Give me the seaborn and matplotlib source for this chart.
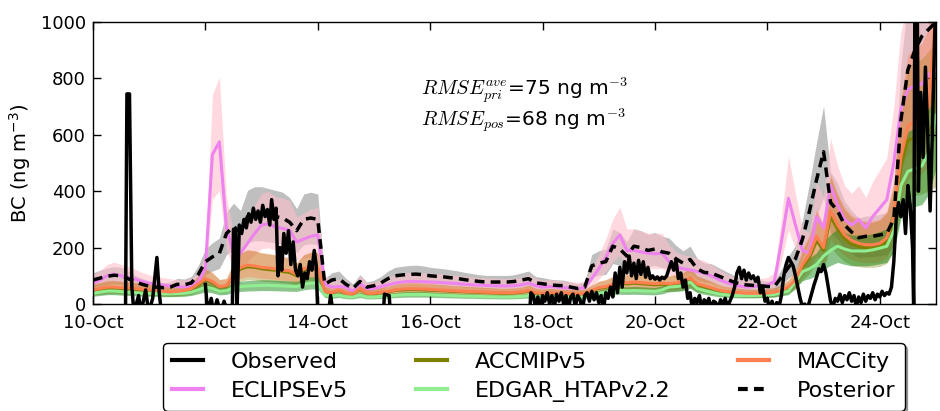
import numpy as np
import pandas as pd
import matplotlib
matplotlib.use("Agg")
import matplotlib.pyplot as plt
import matplotlib.dates as mdates
from matplotlib.lines import Line2D
import seaborn as sns

# ---------------- data ----------------
start = pd.Timestamp("2016-10-10 00:00")
step_hours = 3  # model output every 3 hours, 10-Oct 00h .. 25-Oct 00h

eclipse = [74, 85, 100, 106, 100, 95, 88, 80, 74, 70, 67, 64, 62, 60, 65, 80,
           125, 530, 575, 270, 180, 180, 215, 250, 280, 285, 272, 268, 262, 220, 230, 240,
           245, 70, 60, 62, 60, 45, 72, 55, 55, 62, 68, 74, 78, 80, 80, 79,
           78, 77, 75, 74, 72, 70, 68, 67, 66, 65, 64, 64, 65, 68, 74, 65,
           60, 62, 60, 58, 57, 55, 58, 90, 125, 165, 215, 245, 190, 190, 185, 180,
           178, 180, 150, 131, 125, 121, 115, 110, 100, 88, 78, 70, 64, 60, 62, 65,
           67, 80, 220, 375, 280, 190, 180, 310, 270, 420, 350, 300, 280, 300, 270, 310,
           340, 370, 500, 690, 760, 775, 780, 815, 830]

accmip = [48, 52, 56, 57, 55, 54, 52, 50, 48, 46, 43, 41, 43, 46, 52, 68,
          85, 76, 60, 62, 100, 124, 132, 130, 125, 122, 120, 115, 112, 100, 120, 126,
          125, 43, 38, 48, 36, 34, 52, 36, 36, 40, 43, 48, 50, 51, 51, 50,
          49, 48, 47, 45, 44, 43, 42, 41, 40, 39, 38, 38, 39, 41, 46, 38,
          36, 38, 36, 36, 35, 34, 36, 46, 55, 59, 66, 74, 71, 74, 72, 70,
          68, 70, 68, 71, 76, 88, 68, 62, 55, 48, 43, 40, 38, 36, 36, 36,
          37, 40, 46, 58, 80, 130, 165, 225, 190, 310, 265, 230, 212, 204, 200, 200,
          205, 222, 290, 490, 580, 590, 600, 620, 640]

edgar = [38, 42, 46, 46, 44, 42, 40, 38, 38, 37, 36, 36, 37, 38, 42, 50,
         60, 55, 45, 47, 58, 62, 64, 65, 66, 66, 65, 64, 63, 62, 70, 74,
         74, 32, 28, 32, 26, 25, 32, 25, 25, 27, 29, 31, 33, 34, 34, 34,
         33, 32, 31, 30, 29, 28, 28, 27, 26, 26, 25, 25, 26, 27, 30, 26,
         25, 26, 25, 25, 24, 24, 25, 32, 38, 42, 46, 48, 47, 48, 47, 46,
         45, 50, 60, 62, 65, 78, 55, 48, 42, 36, 33, 31, 30, 30, 30, 31,
         32, 34, 40, 46, 80, 115, 125, 140, 170, 190, 205, 195, 188, 188, 188, 192,
         198, 205, 260, 420, 470, 480, 490, 540, 670]

maccity = [50, 55, 60, 60, 58, 57, 55, 52, 50, 48, 45, 43, 45, 48, 55, 72,
           90, 80, 62, 65, 105, 130, 138, 135, 130, 128, 125, 120, 118, 105, 125, 132,
           130, 45, 40, 50, 38, 35, 55, 38, 38, 42, 45, 50, 53, 54, 54, 53,
           52, 50, 49, 47, 46, 45, 44, 43, 42, 41, 40, 40, 41, 43, 48, 40,
           38, 40, 38, 38, 37, 36, 38, 48, 58, 62, 70, 78, 75, 78, 76, 74,
           72, 74, 72, 75, 80, 92, 72, 65, 58, 50, 45, 42, 40, 38, 38, 38,
           39, 42, 48, 62, 85, 140, 175, 240, 200, 330, 280, 245, 225, 215, 210, 210,
           215, 235, 310, 520, 630, 650, 660, 700, 1050]

posterior = [85, 92, 98, 102, 100, 90, 78, 70, 63, 60, 58, 60, 70, 68, 75, 105,
             150, 167, 180, 250, 275, 255, 310, 320, 320, 315, 310, 305, 290, 260, 300, 305,
             300, 70, 85, 90, 70, 55, 80, 60, 65, 75, 90, 100, 103, 105, 106, 104,
             100, 98, 96, 93, 90, 86, 83, 80, 78, 78, 78, 78, 80, 85, 90, 75,
             72, 68, 66, 65, 60, 55, 60, 135, 145, 150, 205, 195, 170, 205, 200, 190,
             195, 185, 180, 160, 145, 158, 125, 112, 110, 100, 90, 80, 72, 68, 66, 65,
             62, 62, 95, 130, 160, 230, 330, 440, 540, 360, 330, 280, 255, 235, 240, 240,
             245, 250, 300, 650, 830, 900, 950, 975, 1000]

# relative ensemble spread (lower, upper) read from the shaded envelopes
spread_posterior = (0.70, 1.30)
spread_eclipse = (0.70, 1.40)
spread_accmip = (0.65, 1.45)
spread_maccity = (0.70, 1.40)
spread_edgar = (0.72, 1.30)

# observations: hours since 10-Oct 00h and BC values (NaN = no data)
nan = np.nan
obs_hours = [13.9, 14.5, 15.6, 16.6, 17.5, 19.5, 20.5, 22.5, 23.8, 25.5, 27.3, 28.3, 29.2, 30.0,
             48, 49, 50.5, 51.5, 53, 54.5, 56, 57.5, 59.5, 60, 60.8, 61.5, 62.5, 63.5, 64.5,
             65.5, 66.5, 67.5, 68.5, 69.5, 70.5, 71.5, 72.5, 73.5, 74.5, 75.5, 76.3, 77.3,
             78.2, 79, 79.8, 80.6, 81.5, 82.5, 83.5, 84.5, 85.5, 86.5, 87.5, 88.5, 89.5,
             90.5, 91.5, 92.5, 93.5, 94.5, 95.3, 96, 96.5,
             100.5, 101.5, 102.5, 103,
             124, 124.5, 126.5, 127, 127.5,
             186.5, 187, 188, 189, 190, 191, 192, 193, 194, 195, 196, 197, 198, 199, 200,
             201, 202, 203, 204, 205, 206, 207, 208, 209, 210, 211, 212, 213, 214, 215,
             216, 217, 218, 219, 220, 221, 222, 223, 224, 225, 226, 227, 228, 229, 230,
             231, 232, 233, 234, 235, 236, 237, 238, 239, 240, 241, 242, 243, 244, 245,
             246, 247, 248, 249, 250, 251, 252, 253, 254, 255, 256, 257, 258, 259, 260,
             261, 262, 263, 264, 265, 266, 267, 268, 269, 270, 271, 272, 273, 274, 275,
             276, 277, 278, 279, 280, 281, 282, 283, 284, 285, 286, 287, 288, 289, 290,
             291, 292, 293, 294, 295, 296, 297, 298, 299, 300, 301, 302, 303, 304, 305,
             306, 307, 308, 309, 310, 311, 312, 313, 314, 315, 316, 317, 318, 319, 320,
             321, 322, 323, 324, 325, 326, 327, 328, 329, 330, 331, 332, 333, 334, 335,
             336, 337, 338, 339, 340, 341, 342, 343, 344, 345, 346, 347, 348, 349, 350,
             350.5, 351, 352, 352.5, 353.5, 354.5, 355.5, 356.5, 357.5, 358.5, 359.3, 360]
obs_values = [-30, 745, 745, 60, -30, 30, -30, 50, -30, 20, 165, 40, -30, nan,
              70, -30, 20, -30, 15, -30, 10, -30, -30, 265, 265, -30, 280, 250, 300,
              270, 320, 290, 340, 300, 330, 290, 350, 310, 335, 280, 370, 300,
              340, 100, 200, 120, 250, 180, 260, 140, 220, 120, 100, 140, 60,
              110, 90, 150, 120, 190, 140, -30, nan,
              -30, 30, -30, nan,
              -30, 35, 30, -30, nan,
              -30, 40, 30, -10, 25, -20, 30, 10, 40, 0, 30, -10, 35, 10, 40,
              0, 30, -20, 25, 35, -10, 30, 15, -20, 30, 40, 10, 45, 15, 40,
              5, 30, -20, 40, 20, 60, 25, 110, 40, 130, 60, 150, 110, 170, 100,
              145, 90, 155, 105, 150, 95, 130, 90, 100, 88, 96, 85, 95, 90, 100,
              125, 150, 120, 155, 90, 110, 60, 85, 20, 40, -20, 20, 5, 30, -20,
              15, 0, 20, -20, 10, 5, -20, 15, 0, 20, -10, 10, 30, 60, 110,
              130, 90, 120, 85, 110, 90, 100, 80, 95, 40, 60, 10, 20, -20, 10,
              -20, 5, -10, 30, 100, 140, 165, 150, 135, 100, 60, 20, -10, 0, -20,
              10, 40, 70, 95, 125, 115, 140, 110, 60, 10, -10, 20, 10, 35, 5,
              30, 15, 40, 10, 30, -10, 25, 5, 35, 10, 30, 20, 40, 15, 35,
              25, 45, 30, 40, 35, 60, 150, 300, 360, 310, 370, 250, 420, 350, 200,
              -30, 1100, 1100, 400, 750, 520, 840, 600, 330, 620, 900, 1100]

labels = ["Observed", "ECLIPSEv5", "ACCMIPv5", "EDGAR_HTAPv2.2", "MACCity", "Posterior"]
xtick_days = [10, 12, 14, 16, 18, 20, 22, 24]
yticks = [0, 200, 400, 600, 800, 1000]

# ---------------- build frames ----------------
times = start + pd.to_timedelta(np.arange(len(eclipse)) * step_hours, unit="h")
models = pd.DataFrame({"time": times, "ECLIPSEv5": eclipse, "ACCMIPv5": accmip,
                       "EDGAR_HTAPv2.2": edgar, "MACCity": maccity,
                       "Posterior": posterior})

obs = pd.DataFrame({"time": start + pd.to_timedelta(obs_hours, unit="h"),
                    "bc": obs_values})
obs["seg"] = obs["bc"].isna().cumsum()
obs = obs.dropna()

# ---------------- style ----------------
plt.rcParams.update({
    "font.family": ["DejaVu Sans"],
    "mathtext.fontset": "cm",
    "axes.linewidth": 1.0,
    "xtick.direction": "in", "ytick.direction": "in",
    "xtick.top": True, "ytick.right": True,
    "xtick.major.pad": 7, "ytick.major.pad": 5,
    "lines.scale_dashes": False,
    "lines.dashed_pattern": [7.0, 4.5],
})

fig = plt.figure(figsize=(9.4, 4.11), dpi=100)
ax = fig.add_axes([0.0989, 0.2603, 0.8968, 0.6862])

# shaded envelopes
bands = [("Posterior", spread_posterior, "gray", 0.5),
         ("ECLIPSEv5", spread_eclipse, "pink", 0.6),
         ("ACCMIPv5", spread_accmip, "olive", 0.35),
         ("MACCity", spread_maccity, "coral", 0.4),
         ("EDGAR_HTAPv2.2", spread_edgar, "green", 0.45)]
for name, (lo, hi), col, a in bands:
    ax.fill_between(models["time"], models[name] * lo, models[name] * hi,
                    color=col, alpha=a, lw=0)

line_styles = {"ECLIPSEv5": ("violet", 2.2), "ACCMIPv5": ("olive", 2.2),
               "EDGAR_HTAPv2.2": ("lightgreen", 2.2), "MACCity": ("coral", 2.2)}
for name in ["ECLIPSEv5", "ACCMIPv5", "EDGAR_HTAPv2.2", "MACCity"]:
    col, lw = line_styles[name]
    sns.lineplot(data=models, x="time", y=name, color=col, lw=lw, ax=ax,
                 legend=False)

sns.lineplot(data=obs, x="time", y="bc", units="seg", estimator=None,
             color="black", lw=2.5, ax=ax, legend=False)
sns.lineplot(data=models, x="time", y="Posterior", color="black", lw=2.5,
             linestyle="--", ax=ax, legend=False)

# axes
ax.set_xlim(start, start + pd.Timedelta(days=15))
ax.set_ylim(0, 1000)
ax.set_yticks(yticks)
ax.set_xticks([pd.Timestamp(2016, 10, d) for d in xtick_days])
ax.xaxis.set_major_formatter(mdates.DateFormatter("%d-%b"))
ax.tick_params(labelsize=13, length=6, width=1)
ax.set_xlabel("")
ax.set_ylabel(r"BC (ng m$^{-3}$)", fontsize=14, math_fontfamily="dejavusans",
              labelpad=6)
for s in ax.spines.values():
    s.set_color("black")

ax.text(0.389, 0.76, r"$RMSE^{ave}_{pri}$=75 ng m$^{-3}$", transform=ax.transAxes,
        fontsize=14.5, va="center", ha="left", math_fontfamily="cm")
ax.text(0.389, 0.65, r"$RMSE_{pos}$=68 ng m$^{-3}$", transform=ax.transAxes,
        fontsize=14.5, va="center", ha="left", math_fontfamily="cm")

handles = [Line2D([], [], color="black", lw=3),
           Line2D([], [], color="violet", lw=3),
           Line2D([], [], color="olive", lw=3),
           Line2D([], [], color="lightgreen", lw=3),
           Line2D([], [], color="coral", lw=3),
           Line2D([], [], color="black", lw=3, ls="--")]
leg = fig.legend(handles, labels, ncol=3, loc="upper center",
                 bbox_to_anchor=(0.568, 0.1655), fontsize=16,
                 handlelength=1.4, handletextpad=1.25, columnspacing=3.05,
                 frameon=True, fancybox=True, shadow=True, borderpad=0.4,
                 labelspacing=0.4, borderaxespad=0)
leg.get_frame().set_edgecolor("black")
leg.get_frame().set_linewidth(1.0)

fig.savefig("out.png", dpi=100, facecolor="white")
